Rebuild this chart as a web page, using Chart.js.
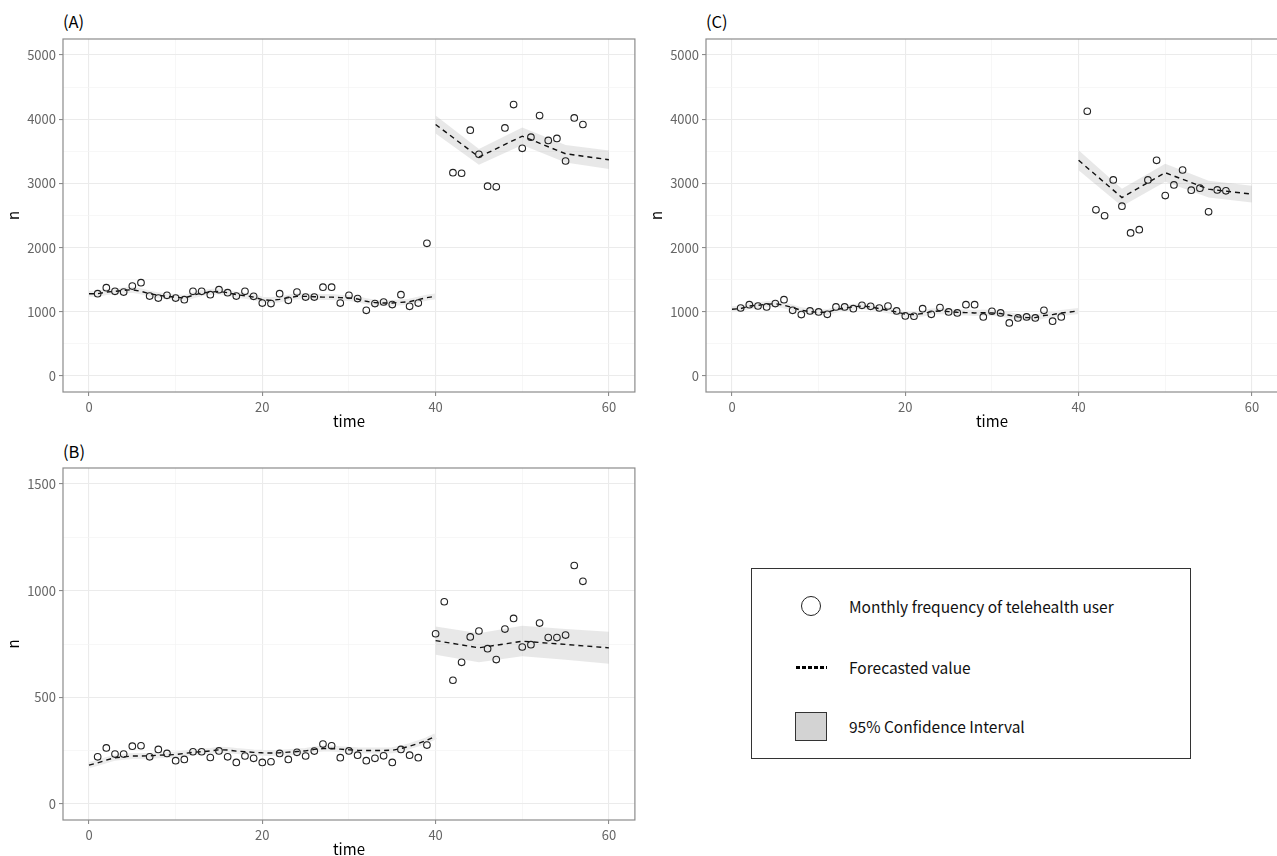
<!DOCTYPE html>
<html>
<head>
<meta charset="utf-8">
<script src="https://cdn.jsdelivr.net/npm/chart.js@4.4.1/dist/chart.umd.min.js"></script>
<style>
    html, body { margin: 0; padding: 0; background: #fff; overflow: hidden; }
    body { width: 1277px; height: 856px; position: relative; font-family: "Noto Sans CJK JP", "Noto Sans", sans-serif; }
    canvas { position: absolute; }
    .tag { position: absolute; font-size: 16.5px; line-height: 18px; color: #000; }
    #legend { position: absolute; left: 751px; top: 568px; width: 440px; height: 191px; border: 1.5px solid #333; box-sizing: border-box; }
    #legend .txt { position: absolute; left: 97px; font-size: 15.5px; line-height: 20px; color: #111; white-space: nowrap; }
    #legend .circ { position: absolute; left: 49px; top: 27px; width: 20px; height: 20px; border: 1.6px solid #222; border-radius: 50%; box-sizing: border-box; }
    #legend .dash { position: absolute; left: 44px; top: 97px; width: 31px; height: 3px; background: repeating-linear-gradient(to right, #000 0 4px, transparent 4px 6px); }
    #legend .sq { position: absolute; left: 43px; top: 143px; width: 32px; height: 29px; background: #d3d3d3; border: 1.6px solid #333; box-sizing: border-box; }
</style>
</head>
<body>
<div class="tag" style="left:63px;top:12px">(A)</div>
<div class="tag" style="left:706px;top:12px">(C)</div>
<div class="tag" style="left:63px;top:442px">(B)</div>
<canvas id="chartA" width="640" height="407" style="left:0;top:27px"></canvas>
<canvas id="chartC" width="640" height="407" style="left:643px;top:27px"></canvas>
<canvas id="chartB" width="640" height="406" style="left:0;top:456px"></canvas>

<div id="legend">
    <div class="circ"></div>
    <div class="txt" style="top:27px">Monthly frequency of telehealth user</div>
    <div class="dash"></div>
    <div class="txt" style="top:88px">Forecasted value</div>
    <div class="sq"></div>
    <div class="txt" style="top:147px">95% Confidence Interval</div>
</div>

<script>
// ==============================
// Data
// ==============================
const preTime = [0, 1, 2, 3, 4, 5, 6, 7, 8, 9, 10, 11, 12, 13, 14, 15, 16, 17, 18, 19, 20,
    21, 22, 23, 24, 25, 26, 27, 28, 29, 30, 31, 32, 33, 34, 35, 36, 37, 38, 39, 40];
const postTime = [40, 45, 50, 55, 60];

// axis ticks (labels only on the major ones)
const xTicks = [0, 10, 20, 30, 40, 50, 60];
const xLabels = [0, 20, 40, 60];
const yTicksAC = [0, 500, 1000, 1500, 2000, 2500, 3000, 3500, 4000, 4500, 5000];
const yLabelsAC = [0, 1000, 2000, 3000, 4000, 5000];
const yTicksB = [0, 250, 500, 750, 1000, 1250, 1500];
const yLabelsB = [0, 500, 1000, 1500];

// (A)
const timeA = [1, 2, 3, 4, 5, 6, 7, 8, 9, 10, 11, 12, 13, 14, 15, 16, 17, 18, 19, 20,
    21, 22, 23, 24, 25, 26, 27, 28, 29, 30, 31, 32, 33, 34, 35, 36, 37, 38, 39,
    42, 43, 44, 45, 46, 47, 48, 49, 50, 51, 52, 53, 54, 55, 56, 57];
const usersA = [1282, 1375, 1318, 1307, 1400, 1453, 1245, 1214, 1256, 1214, 1189, 1318, 1318, 1267, 1344, 1298, 1245, 1318, 1240, 1136,
    1127, 1282, 1178, 1307, 1229, 1229, 1384, 1384, 1136, 1256, 1205, 1023, 1127, 1152, 1112, 1267, 1085, 1136, 2067,
    3167, 3158, 3829, 3453, 2957, 2946, 3865, 4228, 3546, 3721, 4057, 3670, 3701, 3349, 4020, 3918];
const fitPreA = [1280, 1282, 1307, 1318, 1333, 1344, 1318, 1282, 1256, 1240, 1229, 1214, 1256, 1292, 1307, 1318, 1296, 1267, 1250, 1229, 1189,
    1178, 1194, 1220, 1240, 1240, 1235, 1229, 1229, 1220, 1214, 1199, 1163, 1142, 1137, 1137, 1147, 1158, 1189, 1220, 1240];
const fitPostA = [3918, 3411, 3736, 3462, 3369];
const ciLowA = [3778, 3290, 3600, 3325, 3225];
const ciHighA = [4058, 3535, 3872, 3598, 3512];

// (B)
const timeB = [1, 2, 3, 4, 5, 6, 7, 8, 9, 10, 11, 12, 13, 14, 15, 16, 17, 18, 19, 20,
    21, 22, 23, 24, 25, 26, 27, 28, 29, 30, 31, 32, 33, 34, 35, 36, 37, 38, 39,
    40, 41, 42, 43, 44, 45, 46, 47, 48, 49, 50, 51, 52, 53, 54, 55, 56, 57];
const usersB = [221, 263, 234, 234, 271, 273, 221, 256, 237, 203, 209, 245, 245, 218, 249, 221, 195, 225, 214, 195,
    198, 237, 209, 242, 225, 248, 281, 273, 217, 249, 229, 203, 214, 226, 195, 256, 229, 217, 276,
    798, 948, 580, 664, 783, 811, 728, 677, 820, 870, 736, 747, 848, 780, 780, 792, 1118, 1044];
const fitPreB = [182, 193, 206, 217, 221, 225, 225, 226, 229, 230, 232, 237, 242, 245, 249, 254, 253, 248, 245, 242, 240,
    239, 240, 243, 246, 249, 256, 260, 260, 257, 254, 252, 251, 251, 251, 252, 260, 271, 284, 299, 318];
const fitPostB = [766, 732, 763, 748, 732];
const ciLowB = [700, 665, 692, 676, 657];
const ciHighB = [832, 800, 835, 820, 808];

// (C)
const timeC = [1, 2, 3, 4, 5, 6, 7, 8, 9, 10, 11, 12, 13, 14, 15, 16, 17, 18, 19, 20,
    21, 22, 23, 24, 25, 26, 27, 28, 29, 30, 31, 32, 33, 34, 35, 36, 37, 38,
    41, 42, 43, 44, 45, 46, 47, 48, 49, 50, 51, 52, 53, 54, 55, 56, 57];
const usersC = [1059, 1111, 1090, 1075, 1127, 1189, 1023, 956, 1013, 997, 961, 1075, 1075, 1049, 1101, 1085, 1059, 1090, 1013, 935,
    930, 1049, 961, 1065, 997, 982, 1111, 1111, 920, 1008, 982, 827, 904, 920, 904, 1023, 853, 920,
    4124, 2589, 2496, 3054, 2646, 2228, 2279, 3054, 3360, 2811, 2977, 3209, 2895, 2926, 2558, 2899, 2884];
const fitPreC = [1039, 1049, 1090, 1101, 1116, 1127, 1101, 1065, 1023, 1003, 992, 992, 1034, 1059, 1075, 1090, 1075, 1049, 1023, 997, 961,
    956, 972, 1003, 1013, 1003, 992, 987, 982, 987, 982, 972, 946, 920, 909, 909, 941, 956, 982, 997, 1013];
const fitPostC = [3360, 2780, 3167, 2910, 2833];
const ciLowC = [3205, 2645, 3027, 2780, 2703];
const ciHighC = [3515, 2915, 3307, 3040, 2963];

// ==============================
// Helpers
// ==============================
Chart.defaults.font.family = '"Noto Sans CJK JP", "Noto Sans", sans-serif';

function pairs(xs, ys) {
    return xs.map((x, i) => ({ x: x, y: ys[i] }));
}

// ggplot-style panel border on all four sides
const panelBorder = {
    id: 'panelBorder',
    afterDatasetsDraw(chart) {
        const { ctx, chartArea: a } = chart;
        ctx.save();
        ctx.strokeStyle = '#8c8c8c';
        ctx.lineWidth = 1.2;
        ctx.strokeRect(a.left, a.top, a.right - a.left, a.bottom - a.top);
        ctx.restore();
    }
};

function axis(ticks, labels, min, max, fitFn, title, titlePad) {
    const major = v => labels.includes(v);
    return {
        type: 'linear', min: min, max: max,
        afterFit: fitFn,
        afterBuildTicks: s => { s.ticks = ticks.map(v => ({ value: v })); },
        border: { display: false },
        ticks: {
            autoSkip: false, maxRotation: 0,
            padding: 3, color: '#666', font: { size: 13 },
            callback: v => major(v) ? String(v) : ''
        },
        grid: {
            color: c => major(c.tick.value) ? '#ebebeb' : '#f4f4f4',
            lineWidth: c => major(c.tick.value) ? 1.1 : 0.7,
            tickColor: c => major(c.tick.value) ? '#8c8c8c' : 'rgba(0,0,0,0)',
            tickLength: 4
        },
        title: { display: true, text: title, color: '#000', font: { size: 15 }, padding: titlePad }
    };
}

function makePanel(id, time, users, fitPre, fitPost, ciLow, ciHigh, yTicks, yLabels) {
    const yMax = yTicks[yTicks.length - 1];
    const pad = yMax * 0.05;

    new Chart(document.getElementById(id), {
        type: 'scatter',
        data: {
            datasets: [
                {
                    data: pairs(time, users),
                    pointRadius: 3.3,
                    pointBorderWidth: 1.1,
                    pointBorderColor: '#222',
                    pointBackgroundColor: 'rgba(0,0,0,0)',
                    order: 0
                },
                {
                    data: pairs(preTime, fitPre),
                    showLine: true, pointRadius: 0,
                    borderColor: '#111', borderWidth: 1.4, borderDash: [5, 4],
                    order: 1
                },
                {
                    data: pairs(postTime, fitPost),
                    showLine: true, pointRadius: 0,
                    borderColor: '#111', borderWidth: 1.4, borderDash: [5, 4],
                    order: 2
                },
                {
                    data: pairs(preTime, fitPre),
                    showLine: true, pointRadius: 0,
                    borderColor: '#ececec', borderWidth: 6,
                    order: 3
                },
                {
                    data: pairs(postTime, ciLow),
                    showLine: true, pointRadius: 0,
                    borderColor: 'rgba(0,0,0,0)', fill: false,
                    order: 5
                },
                {
                    data: pairs(postTime, ciHigh),
                    showLine: true, pointRadius: 0,
                    borderColor: 'rgba(0,0,0,0)',
                    backgroundColor: 'rgba(150,150,150,0.22)',
                    fill: '-1',
                    order: 4
                }
            ]
        },
        options: {
            responsive: false,
            animation: false,
            layout: { padding: { top: 12, right: 5, bottom: 0, left: 0 } },
            plugins: { legend: { display: false }, tooltip: { enabled: false } },
            scales: {
                x: axis(xTicks, xLabels, -3, 63, s => { s.height = 42; }, 'time', { top: 0, bottom: 4 }),
                y: axis(yTicks, yLabels, -pad, yMax + pad, s => { s.width = 63; }, 'n', { top: 4, bottom: 0 })
            }
        },
        plugins: [panelBorder]
    });
}

// ==============================
// Panels
// ==============================
makePanel('chartA', timeA, usersA, fitPreA, fitPostA, ciLowA, ciHighA, yTicksAC, yLabelsAC);
makePanel('chartC', timeC, usersC, fitPreC, fitPostC, ciLowC, ciHighC, yTicksAC, yLabelsAC);
makePanel('chartB', timeB, usersB, fitPreB, fitPostB, ciLowB, ciHighB, yTicksB, yLabelsB);
</script>
</body>
</html>
